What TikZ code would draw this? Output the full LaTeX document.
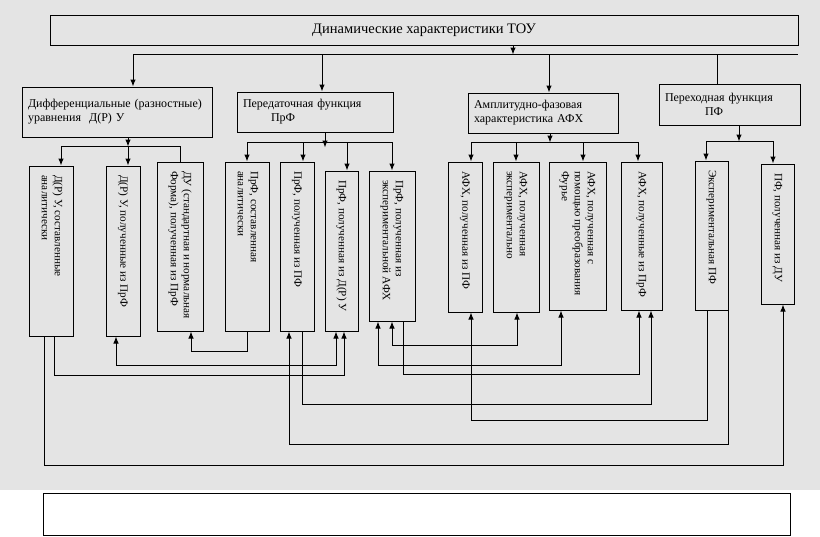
\documentclass[tikz,border=0pt]{standalone}
\usepackage{fontspec}
\setmainfont{Liberation Serif}
\usetikzlibrary{arrows.meta}

\definecolor{scan}{HTML}{E4E4E4}

% rotated, left aligned text for the narrow boxes
\newcommand{\vtxt}[2]{\rotatebox{-90}{\makebox[#1][l]{\begin{tabular}{@{}l@{}}#2\end{tabular}}}}

\begin{document}
\begin{tikzpicture}[
  x = 1pt, y = -1pt,
  > = {Latex[length=7pt,width=5.5pt]},
  line width = 1pt,
  title/.style = {draw, inner sep=0pt, minimum width=748pt, minimum height=30pt,
                  font=\fontsize{14.5}{17}\selectfont},
  cat/.style = {draw, inner xsep=6pt, inner ysep=0pt, align=left,
                font=\fontsize{12}{14}\selectfont},
  leaf/.style = {draw, inner sep=0pt, font=\fontsize{11.2}{13}\selectfont}
]
\useasboundingbox (0,0) rectangle (820,536);
\fill[scan] (0,0) rectangle (820,490);

% top
\node[title] (T) at (424,30) {Динамические характеристики ТОУ};

% second level
\node[cat, minimum width=190pt, minimum height=50pt, text width=178pt] (C1) at (117,112)
  {Дифференциальные (разностные)\\уравнения~ Д(Р) У};
\node[cat, minimum width=156pt, minimum height=40pt, text width=144pt] (C2) at (315,112)
  {Передаточная функция\\\hspace*{28pt}ПрФ};
\node[cat, minimum width=150pt, minimum height=40pt, text width=138pt] (C3) at (543,113)
  {Амплитудно-фазовая\\характеристика АФХ};
\node[cat, minimum width=141pt, minimum height=41pt, text width=129pt] (C4) at (729.5,104.5)
  {Переходная функция\\\hspace*{40pt}ПФ};

% third level
\node[leaf, minimum width=44pt, minimum height=170pt] (a) at (51,251)
  {\vtxt{152pt}{Д(Р) У, составленные\\аналитически}};
\node[leaf, minimum width=34pt, minimum height=170pt] (b) at (123,251)
  {\vtxt{152pt}{Д(Р) У, полученные из ПрФ}};
\node[leaf, minimum width=46pt, minimum height=169pt] (c) at (180,246.5)
  {\vtxt{151pt}{ДУ (стандартная и нормальная\\Форма), полученная из ПрФ}};
\node[leaf, minimum width=44pt, minimum height=169pt] (d) at (247,246.5)
  {\vtxt{151pt}{ПрФ, составленная\\аналитически}};
\node[leaf, minimum width=34pt, minimum height=169pt] (e) at (297,246.5)
  {\vtxt{151pt}{ПрФ, полученная из ПФ}};
\node[leaf, minimum width=33pt, minimum height=160pt] (f) at (341.5,251)
  {\vtxt{142pt}{ПрФ, полученная из Д(Р) У}};
\node[leaf, minimum width=46pt, minimum height=150pt] (g) at (392,246)
  {\vtxt{132pt}{ПрФ, полученная из\\экспериментальной АФХ}};
\node[leaf, minimum width=34pt, minimum height=150pt] (h) at (465,237)
  {\vtxt{132pt}{АФХ, полученная из ПФ}};
\node[leaf, minimum width=46pt, minimum height=150pt] (i) at (516,237)
  {\vtxt{132pt}{АФХ, полученная\\экспериментально}};
\node[leaf, minimum width=57pt, minimum height=148pt] (j) at (577.5,236)
  {\vtxt{130pt}{АФХ, полученная с\\помощью преобразования\\Фурье}};
\node[leaf, minimum width=41pt, minimum height=148pt] (k) at (641.5,236)
  {\vtxt{130pt}{АФХ, полученные из ПрФ}};
\node[leaf, minimum width=33pt, minimum height=149pt] (l) at (711.5,235.5)
  {\vtxt{131pt}{Экспериментальная ПФ}};
\node[leaf, minimum width=33pt, minimum height=140pt] (m) at (777.5,234)
  {\vtxt{122pt}{ПФ, полученная из ДУ}};

% empty frame below
\node[draw, minimum width=747pt, minimum height=42pt] (note) at (416.5,514) {};

% top bus
\coordinate (top west) at (133,54);
\coordinate (top east) at (798,54);
\draw[->] ([xshift=89pt]T.south) -- ++(0,9);
\draw (top west) -- (top east);
\draw[->] (top west) -- (top west |- C1.north);
\draw[->] ([xshift=7pt]C2.north |- top west) -- ([xshift=7pt]C2.north);
\draw[->] ([xshift=6pt]C3.north |- top west) -- ([xshift=6pt]C3.north);
\draw ([xshift=-12.5pt]C4.north |- top west) -- ([xshift=-12.5pt]C4.north);

% buses to the third level
\draw[->] ([xshift=11pt]C1.south) -- ++(0,9) coordinate (du bus);
\draw[->] (du bus) -| ([xshift=10pt]a.north);
\draw[->] (du bus) -- (du bus |- b.north);
\draw (du bus) -| (c.north);

\coordinate (prf bus) at (325,142);
\draw[->] ([xshift=10pt]C2.south) -- ++(0,15);
\draw[->] (prf bus) -| (d.north);
\draw[->] (prf bus) -| ([xshift=6pt]e.north);
\draw[->] (prf bus) -| ([xshift=5.5pt]f.north);
\draw[->] (prf bus) -| (g.north);

\draw[->] ([xshift=7pt]C3.south) -- ++(0,9) coordinate (afx bus);
\draw[->] (afx bus) -| ([xshift=6pt]h.north);
\draw[->] (afx bus) -| (i.north);
\draw[->] (afx bus) -| ([xshift=5.5pt]j.north);
\draw[->] (afx bus) -| ([xshift=-3.5pt]k.north);

\draw[->] ([xshift=9.5pt]C4.south) -- ++(0,16) coordinate (pf bus);
\draw[->] (pf bus) -| ([xshift=-5.5pt]l.north);
\draw[->] (pf bus) -| ([xshift=-4.5pt]m.north);

% links between the third level boxes
\draw[->] ([xshift=-7pt]a.south) -- ++(0,129) -| ([xshift=5.5pt]m.south);
\draw[->] ([xshift=3pt]a.south) -- ++(0,39) -| ([xshift=2.5pt]f.south);
\draw[<->] ([xshift=-7pt]b.south) -- ++(0,29) -| ([xshift=-5.5pt]f.south);
\draw[->] (d.south) -- ++(0,20) -| ([xshift=11pt]c.south);
\draw[->] ([xshift=5pt]e.south) -- ++(0,73) -| ([xshift=9.5pt]k.south);
\draw[->] (l.south east) -- ++(0,134) -| ([xshift=-8pt]e.south);
\draw[->] ([xshift=-4.5pt]l.south) -- ++(0,110) -| ([xshift=6pt]h.south);
\draw[->] ([xshift=11pt]g.south) -- ++(0,53) -| ([xshift=-2.5pt]k.south);
\draw[<->] (g.south) -- ++(0,24) -| ([xshift=1pt]i.south);
\draw[<->] ([xshift=-14pt]g.south) -- ++(0,44) -| ([xshift=-16.5pt]j.south);
\end{tikzpicture}
\end{document}
